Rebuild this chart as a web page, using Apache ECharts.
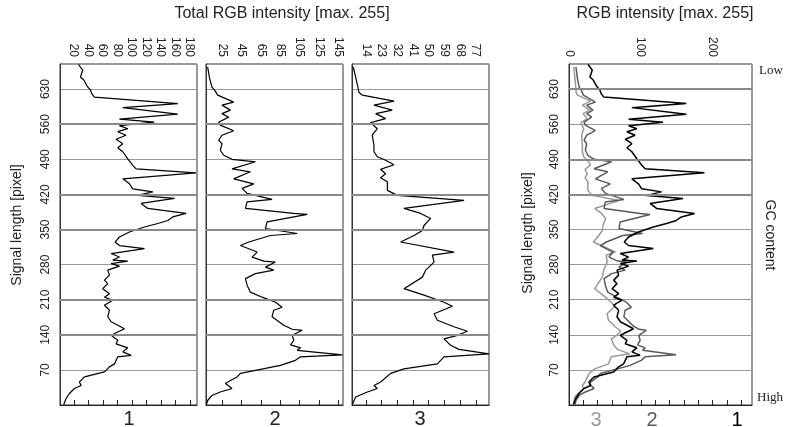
<!DOCTYPE html>
<html><head><meta charset="utf-8">
<script src="https://cdn.jsdelivr.net/npm/echarts@6/dist/echarts.min.js"></script>
<style>html,body{margin:0;padding:0;background:#fff}#c{width:785px;height:427px}</style>
</head><body><div id="c"></div>
<script>
// ---- data ----
const lengthTicks = [70,140,210,280,350,420,490,560,630];
const p1Ticks = [20,40,60,80,100,120,140,160,180];
const p2Ticks = [25,45,65,85,105,125,145];
const p3Ticks = [14,23,32,41,50,59,68,77];
const p4Ticks = [0,20,40,60,80,100,120,140,160,180,200,220,240];
const p4Labels = [0,100,200];
const laneNames = ['1','2','3'];
// [intensity, signal length]
const lane1 = [[26.4,679],[32.4,668],[29.2,654],[33.8,648],[38.4,636],[43,628],[44.8,621],[48.5,614],[163.4,601],[87.6,593],[163.4,580],[83,570],[131,564],[83,557],[94.5,551],[80.7,545],[92,538],[78.4,530],[87.6,521],[80.7,513],[87.6,505],[94.5,491],[101.4,478],[106,471],[188.7,463],[87.6,451],[96.8,441],[101.4,431],[129,425],[108.3,418],[158.9,412],[112.9,402],[122,392],[175,382],[156.6,375],[149.7,368],[135.9,362],[117.5,355],[96.8,345],[83,335],[77,325],[83,318],[117.5,312],[71.5,302],[83,295],[73.8,289],[94.5,287],[71.5,282],[83,277],[66.9,269],[69.2,259],[62.3,249],[66.9,242],[60,232],[69.2,222],[62.3,215],[73.8,209],[62.3,199],[69.2,189],[66.9,176],[71.5,166],[89.9,152],[71.5,139],[80.7,129],[78.4,122],[94.5,114],[87.6,106],[99.1,99],[80.7,96],[76.1,82],[69.2,76],[62.3,66],[34.7,56],[27.8,46],[30.1,39],[20.9,33],[14,23],[9.4,13],[6.2,1]];
const lane2 = [[9.7,674],[11.8,651],[14.2,634],[17.7,626],[20.1,618],[36.7,604],[24.6,598],[33.3,588],[24.6,581],[31.5,574],[21.1,564],[22.8,558],[36.7,547],[24.6,538],[21.1,528],[24.6,521],[22.8,508],[26.3,498],[35,490],[59.2,485],[35,471],[54,465],[36.7,451],[57.5,441],[45.4,432],[50.6,422],[76.5,410],[50.6,405],[48.9,392],[99,382],[112.9,380],[71.3,365],[69.6,352],[102.5,342],[74.8,338],[52.3,325],[43.7,318],[61,305],[55.8,295],[67.9,287],[80,285],[69.6,275],[78.2,269],[59.2,262],[48.9,252],[50.6,239],[54,225],[66.2,215],[80,205],[86.9,195],[78.2,189],[76.5,176],[88.6,159],[97.3,151],[107.6,149],[97.3,139],[99,129],[95.6,120],[106,114],[102.5,109],[149.3,100],[106,96],[100.7,89],[85.2,79],[43.7,63],[40.2,56],[33.3,49],[28.1,43],[35,33],[22.8,26],[14.2,19],[9.7,9],[8.4,1]];
const lane3 = [[6.7,674],[8.1,654],[9.4,634],[10,623],[11.9,618],[30.1,606],[18.6,598],[29.1,588],[19.6,581],[25.3,571],[16.7,563],[20.5,551],[17.6,538],[18.6,518],[18.6,505],[20.5,495],[25.3,488],[30.1,479],[22.4,470],[25.3,461],[22.4,453],[26.3,445],[26.3,428],[32,418],[70.3,408],[35.8,392],[45.4,382],[51.1,372],[47.3,358],[46.4,348],[41.6,338],[33.9,325],[64.5,305],[52.1,299],[53.1,285],[48.3,269],[46.4,255],[35.8,232],[47.3,219],[58.8,205],[63.6,197],[53.1,182],[55,169],[64.5,156],[72.2,147],[66.5,139],[58.8,132],[62.6,119],[67.4,111],[84.6,102],[58.8,96],[55,82],[35.8,72],[28.2,63],[22.4,46],[18.6,39],[20.5,33],[14.8,26],[8.1,16],[6.2,1]];
const heavyGridLeft = [140,210,350,420,560];
const heavyGridRight = [420,490,630];

// ---- layout ----
const chart = echarts.init(document.getElementById('c'), null, {renderer:'canvas'});
const FONT = "'Liberation Sans', Arial, sans-serif";
const TICKFONT = "'Liberation Sans Narrow', 'Liberation Sans', Arial, sans-serif";
const gridDefs = [
  {left:60, width:137},
  {left:206, width:137},
  {left:352, width:137},
  {left:569, width:183}
];
const xRanges = [[1,190],[8,150],[6,84.6],[0,255]];
const xTicks = [p1Ticks,p2Ticks,p3Ticks,p4Ticks];
const xLabels = [p1Ticks,p2Ticks,p3Ticks,p4Labels];
const grids = gridDefs.map(g => ({left:g.left, width:g.width, top:64, height:341, show:true, borderColor:'#333', borderWidth:1, backgroundColor:'transparent'}));
const xAxes = gridDefs.map((g,i) => ({
  gridIndex:i, type:'value', position:'top', min:xRanges[i][0], max:xRanges[i][1],
  axisLine:{show:true, lineStyle:{color:'#222', width:1}},
  axisTick:{show:true, inside:false, length:5, customValues:xTicks[i], lineStyle:{color:'#222'}},
  axisLabel:{customValues:xLabels[i], rotate:-90, margin:7, fontSize:12, color:'#222', fontFamily:TICKFONT},
  splitLine:{show:false}
}));
const yAxes = gridDefs.map((g,i) => ({
  gridIndex:i, type:'value', min:0, max:680, interval:70,
  axisLine:{show:true, lineStyle:{color:'#333'}},
  axisTick:{show:false},
  axisLabel:{show:(i===0||i===3), customValues:lengthTicks, rotate:90, margin:8, fontSize:12, color:'#222', fontFamily:TICKFONT},
  splitLine:{show:true, lineStyle:{color:'#999', width:1}}
}));
const lanes = [lane1,lane2,lane3];
const series = [];
const heavy = (i, list) => ({type:'line', xAxisIndex:i, yAxisIndex:i, data:[], z:1, silent:true, animation:false,
  markLine:{silent:true, symbol:'none', animation:false, label:{show:false}, lineStyle:{color:'#8a8a8a', width:2, type:'solid'}, data:list.map(v=>({yAxis:v}))}});
[0,1,2].forEach(i => series.push(heavy(i, heavyGridLeft)));
series.push(heavy(3, heavyGridRight));
lanes.forEach((d,i) => series.push({type:'line', xAxisIndex:i, yAxisIndex:i, data:d, z:3, symbol:'none', silent:true, animation:false, lineStyle:{color:'#000', width:1.2}}));
const overlayColors = ['#000000','#5a5a5a','#9a9a9a'];
[2,1,0].forEach(i => series.push({type:'line', xAxisIndex:3, yAxisIndex:3, data:lanes[i], z:3, symbol:'none', silent:true, animation:false, lineStyle:{color:overlayColors[i], width:1.5}}));

const txt = (x,y,text,opt) => ({type:'text', x:x, y:y, rotation:opt.rot||0, style:{text:text, fill:opt.fill||'#222', font:(opt.size||14)+'px '+(opt.family||FONT), align:'center', verticalAlign:'middle'}});
const graphics = [
  txt(282,14,'Total RGB intensity [max. 255]',{size:16}),
  txt(665,14,'RGB intensity [max. 255]',{size:16}),
  txt(17,225,'Signal length [pixel]',{size:14, rot:Math.PI/2}),
  txt(528,233,'Signal length [pixel]',{size:14, rot:Math.PI/2}),
  txt(770,235,'GC content',{size:14, rot:-Math.PI/2}),
  txt(771,71,'Low',{size:13, family:"'Liberation Serif', serif"}),
  txt(770,398,'High',{size:13, family:"'Liberation Serif', serif"}),
  txt(129,419,laneNames[0],{size:20}),
  txt(275,419,laneNames[1],{size:20}),
  txt(420,419,laneNames[2],{size:20}),
  txt(596,420,laneNames[2],{size:20, fill:'#9a9a9a'}),
  txt(652,420,laneNames[1],{size:20, fill:'#5a5a5a'}),
  txt(737,420,laneNames[0],{size:20, fill:'#000'})
];
chart.setOption({animation:false, backgroundColor:'#fff', grid:grids, xAxis:xAxes, yAxis:yAxes, series:series, graphic:graphics});
</script></body></html>
